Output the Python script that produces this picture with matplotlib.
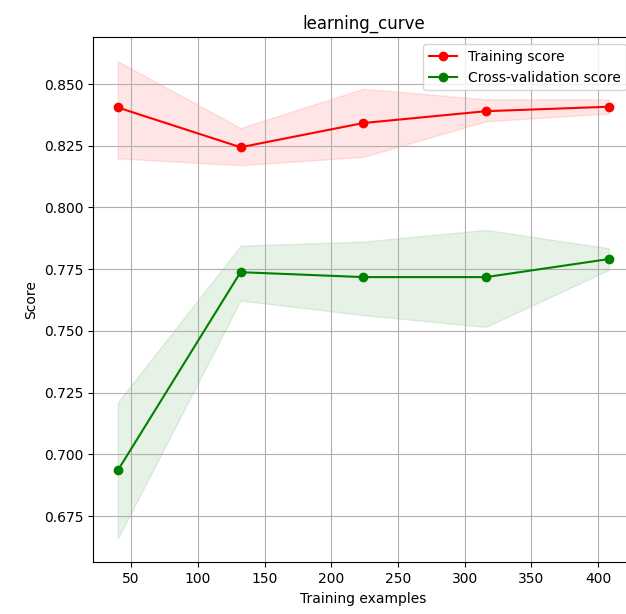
import numpy as np
import matplotlib
matplotlib.use("Agg")
import matplotlib.pyplot as plt

# learning curve results (mean and +/- std bounds per training size)
train_sizes = [40, 132, 224, 316, 408]

train_mean = [0.8405, 0.8244, 0.8342, 0.8390, 0.8408]
train_upper = [0.8592, 0.8322, 0.8481, 0.8438, 0.8438]
train_lower = [0.8199, 0.8171, 0.8205, 0.8349, 0.8380]

test_mean = [0.6935, 0.7738, 0.7718, 0.7718, 0.7791]
test_upper = [0.7211, 0.7845, 0.7862, 0.7909, 0.7835]
test_lower = [0.6659, 0.7623, 0.7564, 0.7516, 0.7747]

fig = plt.figure(figsize=(6.26, 6.14), dpi=100)
ax = fig.add_axes([0.149, 0.084, 0.8626, 0.855])

ax.set_title("learning_curve")
ax.set_xlabel("Training examples")
ax.set_ylabel("Score")
ax.grid()

ax.fill_between(train_sizes, train_lower, train_upper, alpha=0.1, color="r")
ax.fill_between(train_sizes, test_lower, test_upper, alpha=0.1, color="g")
ax.plot(train_sizes, train_mean, 'o-', color="r", label="Training score")
ax.plot(train_sizes, test_mean, 'o-', color="g", label="Cross-validation score")
ax.legend(loc="best")

fig.savefig("out.png", dpi=100)
